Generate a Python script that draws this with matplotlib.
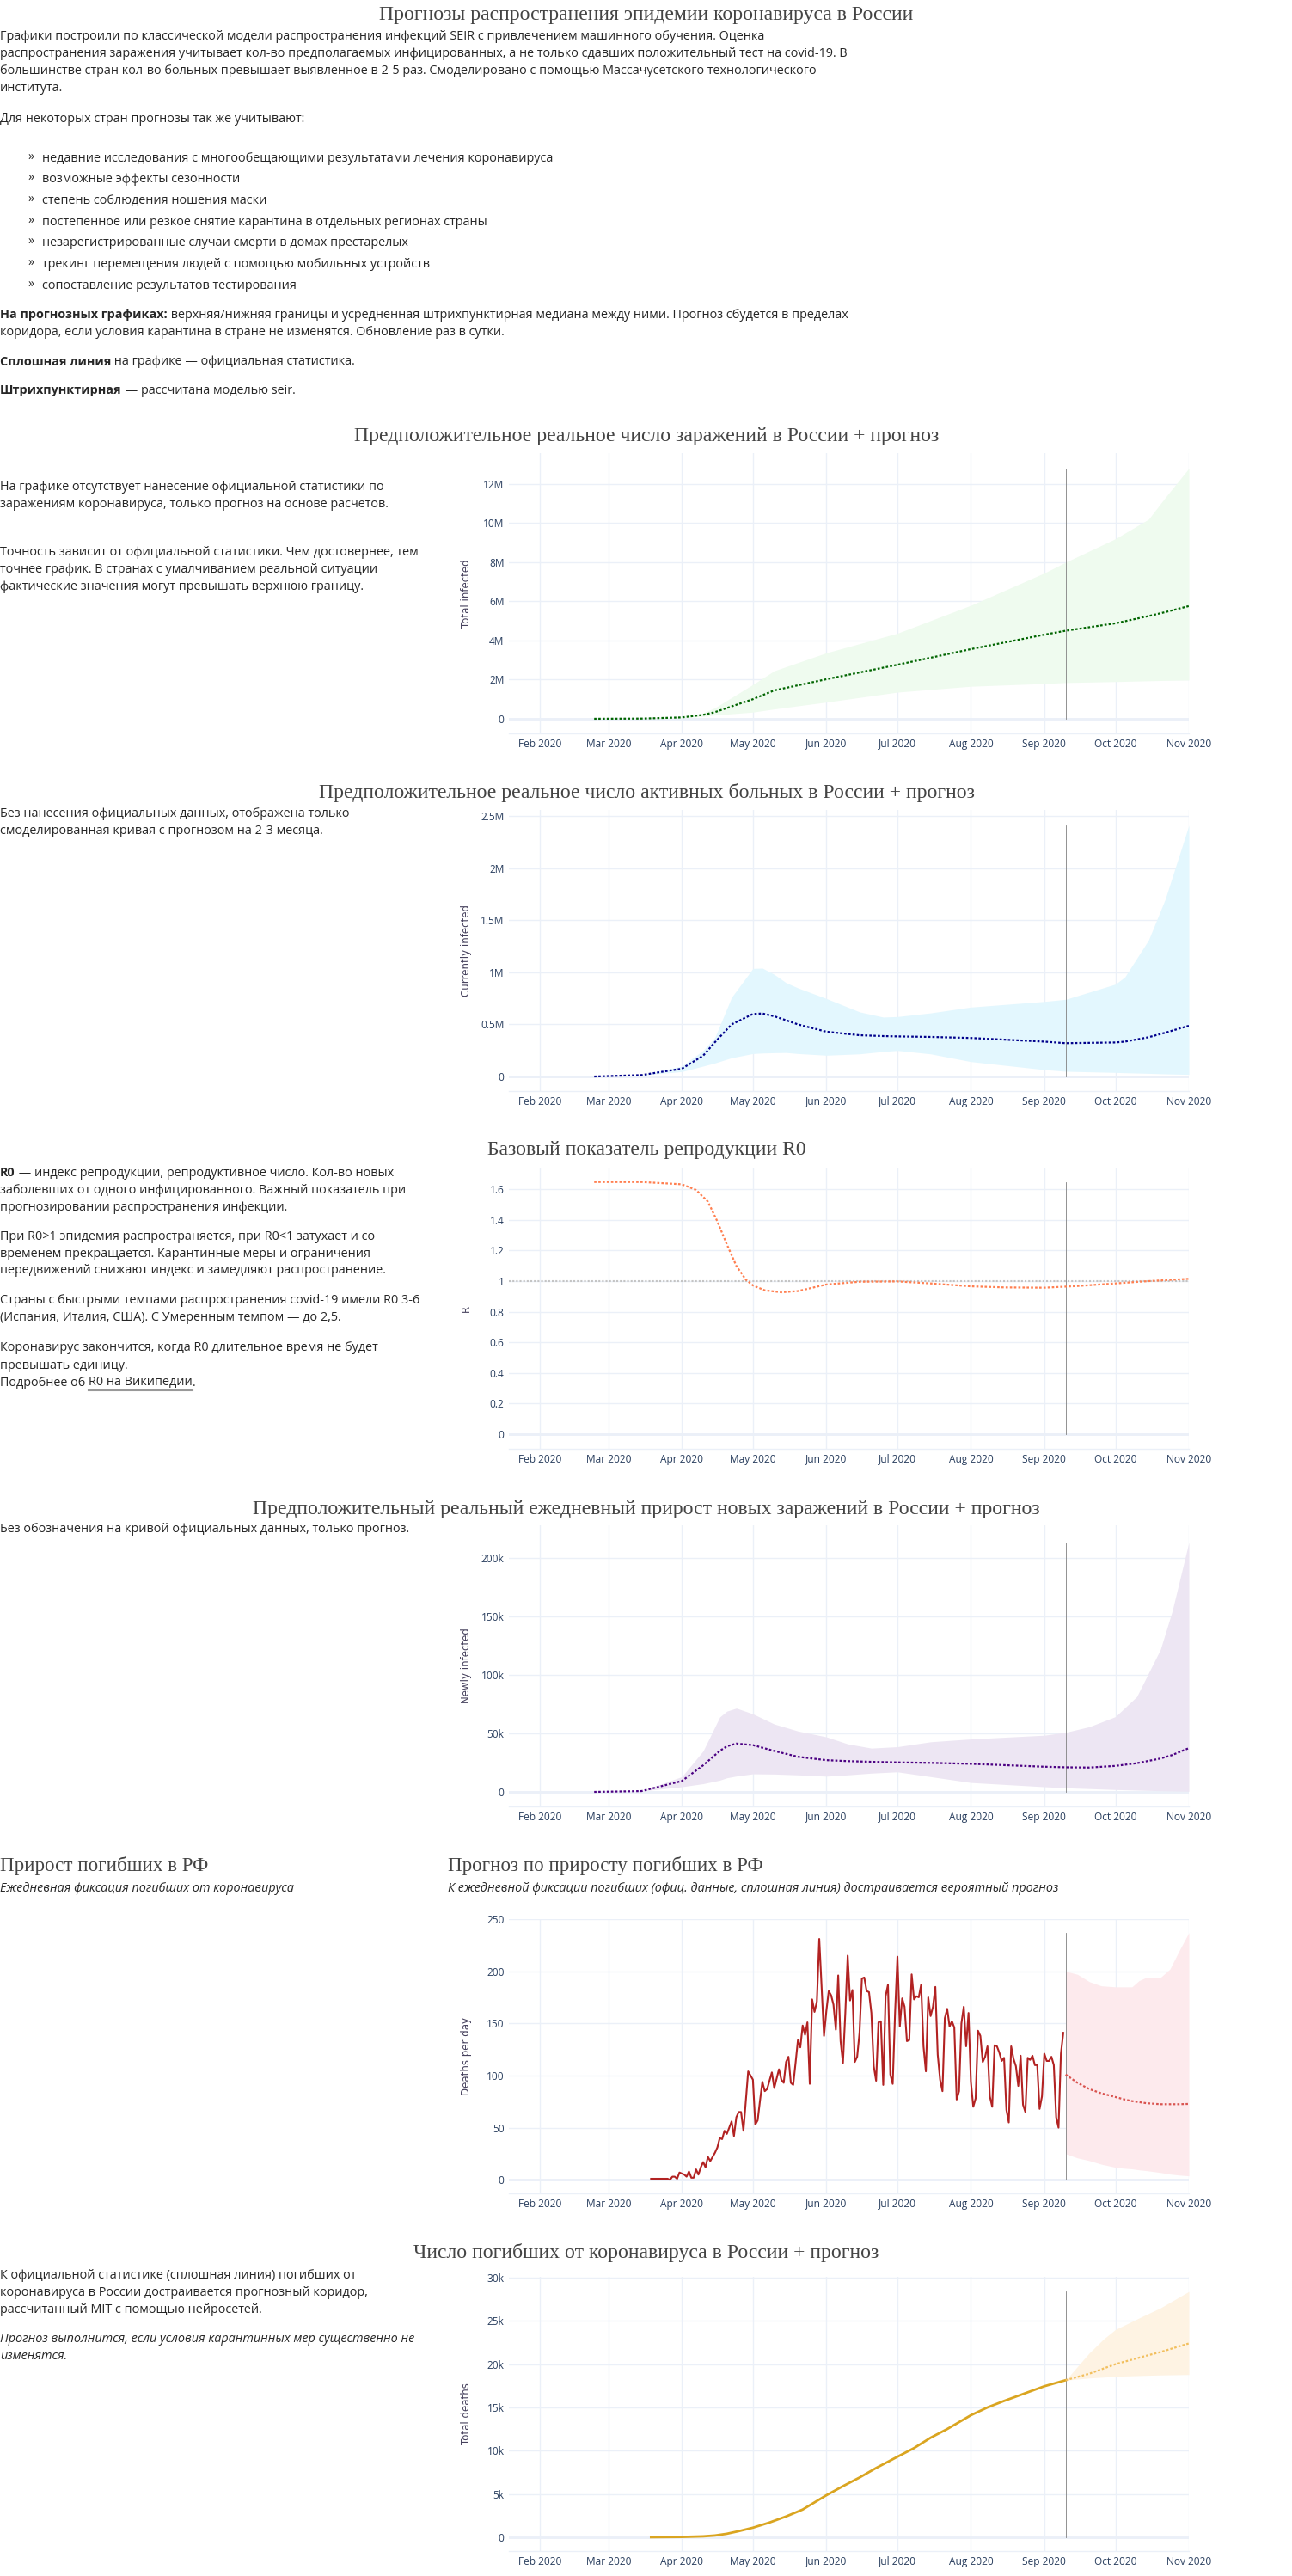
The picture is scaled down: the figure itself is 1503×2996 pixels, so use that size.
import matplotlib
matplotlib.use('Agg')
import matplotlib.pyplot as plt
import matplotlib.dates as mdates
from matplotlib.lines import Line2D
import numpy as np

W, H = 1503, 2996

TEXT = '#262626'
HEAD = '#444444'
TICK = '#2a3f5f'
AXTITLE = '#45405c'
GRID = '#ebf0f8'
SANS = 'Open Sans'
SERIF = 'Liberation Serif'
BODY = 10.35

forecastStart = '2020-09-10'
xRange = ('2020-01-19', '2020-11-01')

# --- total infected, millions
infDates = ['2020-02-24', '2020-03-15', '2020-04-01', '2020-04-10', '2020-04-15', '2020-05-01',
            '2020-05-10', '2020-06-01', '2020-07-01', '2020-08-01', '2020-09-01', '2020-09-10',
            '2020-10-01', '2020-10-15', '2020-10-22', '2020-11-01']
infMid = [0, 0.01, 0.07, 0.2, 0.34, 1.0, 1.45, 2.02, 2.76, 3.56, 4.3, 4.5, 4.88, 5.25, 5.45, 5.76]
infHigh = [0, 0.01, 0.1, 0.3, 0.56, 1.75, 2.45, 3.37, 4.37, 5.8, 7.45, 8.0, 9.2, 10.2, 11.3, 12.8]
infLow = [0, 0.01, 0.05, 0.12, 0.19, 0.34, 0.5, 0.85, 1.36, 1.66, 1.8, 1.85, 1.9, 1.94, 1.96, 1.98]

# --- currently infected, millions
actDates = ['2020-02-24', '2020-03-15', '2020-04-01', '2020-04-10', '2020-04-15', '2020-04-22',
            '2020-05-01', '2020-05-05', '2020-05-10', '2020-05-15', '2020-05-20', '2020-06-01',
            '2020-06-15', '2020-06-25', '2020-07-01', '2020-07-15', '2020-08-01', '2020-09-01',
            '2020-09-10', '2020-10-01', '2020-10-05', '2020-10-15', '2020-10-22', '2020-11-01']
actMid = [0, 0.014, 0.075, 0.2, 0.33, 0.5, 0.6, 0.605, 0.578, 0.54, 0.5, 0.43,
          0.396, 0.388, 0.385, 0.38, 0.37, 0.335, 0.32, 0.327, 0.335, 0.377, 0.42, 0.487]
actHigh = [0, 0.014, 0.1, 0.25, 0.377, 0.76, 1.037, 1.04, 0.98, 0.9, 0.85, 0.748,
           0.62, 0.57, 0.575, 0.61, 0.666, 0.72, 0.74, 0.886, 0.955, 1.31, 1.7, 2.41]
actLow = [0, 0.014, 0.047, 0.1, 0.13, 0.18, 0.22, 0.225, 0.228, 0.23, 0.22, 0.204,
          0.217, 0.24, 0.25, 0.217, 0.143, 0.066, 0.05, 0.039, 0.036, 0.03, 0.025, 0.02]

# --- reproduction number
rDates = ['2020-02-24', '2020-03-15', '2020-04-01', '2020-04-07', '2020-04-12', '2020-04-16',
          '2020-04-20', '2020-04-24', '2020-04-28', '2020-05-01', '2020-05-06', '2020-05-13',
          '2020-05-20', '2020-06-01', '2020-06-15', '2020-07-01', '2020-07-15', '2020-08-01',
          '2020-08-15', '2020-09-01', '2020-09-15', '2020-10-01', '2020-10-15', '2020-11-01']
rValue = [1.648, 1.648, 1.633, 1.596, 1.52, 1.39, 1.24, 1.10, 1.01, 0.972, 0.94, 0.927,
          0.935, 0.978, 0.996, 0.998, 0.985, 0.966, 0.959, 0.957, 0.968, 0.985, 1.0, 1.015]

# --- newly infected, thousands
newDates = ['2020-02-24', '2020-03-15', '2020-04-01', '2020-04-10', '2020-04-17', '2020-04-20',
            '2020-04-24', '2020-05-01', '2020-05-10', '2020-05-20', '2020-06-01', '2020-06-10',
            '2020-06-20', '2020-07-01', '2020-07-15', '2020-08-01', '2020-09-01', '2020-09-10',
            '2020-09-20', '2020-10-01', '2020-10-10', '2020-10-20', '2020-10-25', '2020-11-01']
newMid = [0, 0.7, 9.3, 22.7, 35, 39, 41.3, 40, 35, 30, 27.1, 26.3,
          25.7, 25.2, 24.8, 24, 21.5, 21, 20.8, 22.2, 24.5, 28.5, 31.5, 37.4]
newHigh = [0, 0.7, 13, 35, 64, 69, 71.6, 66.7, 58, 52, 47, 41,
           37.4, 38.6, 42.8, 45.2, 48.4, 50.9, 55.7, 64.3, 81.4, 121.8, 154.8, 213.4]
newLow = [0, 0.7, 4.4, 7, 10, 12, 13.5, 15.4, 15.2, 14.5, 13.4, 14.5,
          16, 17.1, 13, 8, 4.4, 3.5, 2.8, 2, 1.5, 1, 0.8, 0.5]

# --- official deaths per day, one value per day starting 19 Mar
deathsStart = '2020-03-19'
deathsDaily = [1, 1, 1, 1, 1, 1, 1, 1, 0, 3, 3, 1, 7,
               6, 5, 3, 8, 2, 2, 10, 5, 12, 17, 12, 22, 18, 22, 26, 31, 40, 39, 47, 44, 50, 56, 42, 60,
               65, 65, 47, 75, 104, 100,
               96, 53, 57, 76, 94, 85, 87, 95, 103, 88, 97, 106, 96, 93, 113, 118, 93, 91, 112, 134,
               127, 148, 139, 151, 92, 173, 161, 171, 231, 184, 138,
               162, 181, 177, 168, 144, 196, 133, 112, 160, 215, 172, 182, 113, 118, 141, 193, 194, 181,
               180, 160, 109, 95, 151, 152, 91, 176, 187, 101, 92, 160,
               214, 147, 174, 166, 133, 134, 197, 173, 176, 175, 187, 128, 104, 175, 157, 166, 185, 120,
               96, 85, 155, 164, 147, 152, 146, 77, 85, 150, 166, 128, 160,
               94, 70, 78, 143, 138, 113, 118, 128, 80, 70, 129, 128, 122, 114, 117, 67, 55, 128, 116,
               109, 90, 119, 72, 65, 117, 115, 119, 110, 110, 68, 80,
               121, 114, 114, 118, 110, 60, 50, 121, 141]

# --- forecast of deaths per day
dfcDates = ['2020-09-10', '2020-09-15', '2020-09-20', '2020-09-25', '2020-10-01', '2020-10-05',
            '2020-10-08', '2020-10-11', '2020-10-14', '2020-10-20', '2020-10-24', '2020-10-28',
            '2020-11-01']
dfcMid = [101, 93, 87, 83, 79.4, 77, 75.5, 74.5, 73.5, 72.5, 72.5, 72.5, 72.8]
dfcHigh = [200, 197, 190, 186, 185, 185, 185, 191, 194, 194, 202, 220, 237]
dfcLow = [25, 21, 18.4, 15, 12, 11, 10.5, 9.5, 8.8, 7, 5.5, 4.5, 3.8]

# --- total deaths, thousands
totDates = ['2020-03-19', '2020-04-01', '2020-04-10', '2020-04-15', '2020-04-20', '2020-04-25',
            '2020-05-01', '2020-05-08', '2020-05-15', '2020-05-22', '2020-06-01', '2020-06-08',
            '2020-06-15', '2020-06-22', '2020-07-01', '2020-07-08', '2020-07-15', '2020-07-22',
            '2020-08-01', '2020-08-08', '2020-08-15', '2020-08-22', '2020-09-01', '2020-09-10']
totDeaths = [0, 0.03, 0.1, 0.2, 0.4, 0.7, 1.1, 1.7, 2.4, 3.2, 4.85, 5.9,
             6.9, 8.0, 9.3, 10.3, 11.5, 12.5, 14.1, 15.0, 15.75, 16.45, 17.45, 18.15]
tfcDates = ['2020-09-10', '2020-09-20', '2020-09-26', '2020-10-01', '2020-10-13', '2020-10-20', '2020-11-01']
tfcMid = [18.15, 18.9, 19.5, 20.0, 20.9, 21.4, 22.4]
tfcHigh = [18.15, 21.3, 22.9, 24.0, 25.6, 26.5, 28.4]
tfcLow = [18.15, 18.4, 18.5, 18.6, 18.7, 18.75, 18.8]

# tick labels per chart
infTicks, infLabels = [0, 2, 4, 6, 8, 10, 12], ['0', '2M', '4M', '6M', '8M', '10M', '12M']
actTicks, actLabels = [0, 0.5, 1, 1.5, 2, 2.5], ['0', '0.5M', '1M', '1.5M', '2M', '2.5M']
rTicks, rLabels = [0, 0.2, 0.4, 0.6, 0.8, 1, 1.2, 1.4, 1.6], ['0', '0.2', '0.4', '0.6', '0.8', '1', '1.2', '1.4', '1.6']
newTicks, newLabels = [0, 50, 100, 150, 200], ['0', '50k', '100k', '150k', '200k']
dayTicks, dayLabels = [0, 50, 100, 150, 200, 250], ['0', '50', '100', '150', '200', '250']
totTicks, totLabels = [0, 5, 10, 15, 20, 25, 30], ['0', '5k', '10k', '15k', '20k', '25k', '30k']


def d(lst):
    return np.array(lst, dtype='datetime64[D]')


fig = plt.figure(figsize=(W / 100, H / 100), dpi=100)
renderer = fig.canvas.get_renderer()


def fx(x):
    return x / W


def fy(y):
    return 1 - y / H


def textLine(x, y, parts, size=BODY, color=TEXT):
    # parts: list of (text, weight, style, underline)
    for s, weight, style, underline in parts:
        t = fig.text(fx(x), fy(y), s, fontsize=size, fontweight=weight, fontstyle=style,
                     family=SANS, color=color, va='center', ha='left')
        bb = t.get_window_extent(renderer)
        if underline:
            fig.add_artist(Line2D([fx(x), fx(x + bb.width)], [fy(y + 9), fy(y + 9)],
                                  color='#999999', lw=1.5))
        x += bb.width


def plain(x, y, s, size=BODY, style='normal'):
    fig.text(fx(x), fy(y), s, fontsize=size, fontstyle=style, family=SANS,
             color=TEXT, va='center', ha='left')


def heading(y, s, x=752, ha='center', size=17.1):
    fig.text(fx(x), fy(y), s, fontsize=size, family=SERIF, color=HEAD, va='center', ha=ha)


def makeAxis(top, bottom, ylim, ticks, labels, ytitle):
    ax = fig.add_axes([fx(592), fy(bottom), (1383 - 592) / W, (bottom - top) / H])
    ax.set_xlim(d(xRange))
    ax.set_ylim(ylim)
    for s in ['top', 'right', 'left']:
        ax.spines[s].set_visible(False)
    ax.spines['bottom'].set_color(GRID)
    ax.spines['bottom'].set_linewidth(1)
    ax.xaxis.set_major_locator(mdates.MonthLocator())
    ax.xaxis.set_major_formatter(mdates.DateFormatter('%b %Y'))
    ax.set_yticks(ticks)
    ax.set_yticklabels(labels)
    ax.tick_params(length=0, labelsize=8.6, labelcolor=TICK, pad=4)
    for lab in ax.get_xticklabels() + ax.get_yticklabels():
        lab.set_family(SANS)
    ax.grid(True, color=GRID, lw=1)
    ax.set_axisbelow(True)
    ax.axhline(0, color=GRID, lw=2, zorder=0.5)
    ax.set_ylabel(ytitle, fontsize=8.5, color=AXTITLE, family='DejaVu Sans')
    ax.yaxis.set_label_coords(-0.054, 0.5)
    return ax


DOT = (0, (1.2, 1.0))


def band(ax, dates, mid, low, high, line, fill):
    ax.fill_between(d(dates), low, high, color=fill, lw=0, zorder=1)
    ax.plot(d(dates), mid, color=line, lw=1.6, linestyle=DOT, zorder=3)


def todayLine(ax, top):
    ax.plot(d([forecastStart, forecastStart]), [0, top], color='#808080', lw=0.6, zorder=2)


# ---------------- header text ----------------
heading(17, 'Прогнозы распространения эпидемии коронавируса в России')
plain(0, 43, 'Графики построили по классической модели распространения инфекций SEIR с привлечением машинного обучения. Оценка')
plain(0, 63, 'распространения заражения учитывает кол-во предполагаемых инфицированных, а не только сдавших положительный тест на covid-19. В')
plain(0, 83, 'большинстве стран кол-во больных превышает выявленное в 2-5 раз. Смоделировано с помощью Массачусетского технологического')
plain(0, 103, 'института.')
plain(0, 138, 'Для некоторых стран прогнозы так же учитывают:')
bullets = ['недавние исследования с многообещающими результатами лечения коронавируса',
           'возможные эффекты сезонности',
           'степень соблюдения ношения маски',
           'постепенное или резкое снятие карантина в отдельных регионах страны',
           'незарегистрированные случаи смерти в домах престарелых',
           'трекинг перемещения людей с помощью мобильных устройств',
           'сопоставление результатов тестирования']
for i, b in enumerate(bullets):
    y = 184 + i * 24.7
    plain(32, y - 1, '»')
    plain(49, y, b)
textLine(0, 366, [('На прогнозных графиках:', 'bold', 'normal', False),
                  (' верхняя/нижняя границы и усредненная штрихпунктирная медиана между ними. Прогноз сбудется в пределах', 'normal', 'normal', False)])
plain(0, 386, 'коридора, если условия карантина в стране не изменятся. Обновление раз в сутки.')
textLine(0, 421, [('Сплошная линия', 'bold', 'normal', False),
                  (' на графике — официальная статистика.', 'normal', 'normal', False)])
textLine(0, 454, [('Штрихпунктирная', 'bold', 'normal', False),
                  (' — рассчитана моделью seir.', 'normal', 'normal', False)])

# ---------------- total infected ----------------
heading(507, 'Предположительное реальное число заражений в России + прогноз')
plain(0, 567, 'На графике отсутствует нанесение официальной статистики по')
plain(0, 587, 'заражениям коронавируса, только прогноз на основе расчетов.')
plain(0, 642, 'Точность зависит от официальной статистики. Чем достовернее, тем')
plain(0, 662, 'точнее график. В странах с умалчиванием реальной ситуации')
plain(0, 682, 'фактические значения могут превышать верхнюю границу.')
ax1 = makeAxis(527, 853, (-0.75, 13.58), infTicks, infLabels, 'Total infected')
band(ax1, infDates, infMid, infLow, infHigh, '#006400', '#effbef')
todayLine(ax1, max(infHigh))

# ---------------- currently infected ----------------
heading(922, 'Предположительное реальное число активных больных в России + прогноз')
plain(0, 947, 'Без нанесения официальных данных, отображена только')
plain(0, 967, 'смоделированная кривая с прогнозом на 2-3 месяца.')
ax2 = makeAxis(942, 1269, (-0.14, 2.558), actTicks, actLabels, 'Currently infected')
band(ax2, actDates, actMid, actLow, actHigh, '#00008b', '#e3f7fe')
todayLine(ax2, max(actHigh))

# ---------------- R0 ----------------
heading(1338, 'Базовый показатель репродукции R0')
textLine(0, 1364, [('R0', 'bold', 'normal', False),
                   (' — индекс репродукции, репродуктивное число. Кол-во новых', 'normal', 'normal', False)])
plain(0, 1384, 'заболевших от одного инфицированного. Важный показатель при')
plain(0, 1404, 'прогнозировании распространения инфекции.')
plain(0, 1438, 'При R0>1 эпидемия распространяется, при R0<1 затухает и со')
plain(0, 1458, 'временем прекращается. Карантинные меры и ограничения')
plain(0, 1478, 'передвижений снижают индекс и замедляют распространение.')
plain(0, 1513, 'Страны с быстрыми темпами распространения covid-19 имели R0 3-6')
plain(0, 1533, '(Испания, Италия, США). С Умеренным темпом — до 2,5.')
plain(0, 1568, 'Коронавирус закончится, когда R0 длительное время не будет')
plain(0, 1588, 'превышать единицу.')
textLine(0, 1608, [('Подробнее об ', 'normal', 'normal', False),
                   ('R0 на Википедии', 'normal', 'normal', True),
                   ('.', 'normal', 'normal', False)])
ax3 = makeAxis(1358, 1685, (-0.096, 1.742), rTicks, rLabels, 'R')
ax3.axhline(1, color='#c4c4c4', lw=1.5, linestyle=(0, (1, 1)), zorder=2)
ax3.plot(d(rDates), rValue, color='#ff7f50', lw=1.6, linestyle=DOT, zorder=3)
todayLine(ax3, max(rValue))

# ---------------- newly infected ----------------
heading(1755, 'Предположительный реальный ежедневный прирост новых заражений в России + прогноз')
plain(0, 1778, 'Без обозначения на кривой официальных данных, только прогноз.')
ax4 = makeAxis(1774, 2101, (-12.5, 228), newTicks, newLabels, 'Newly infected')
band(ax4, newDates, newMid, newLow, newHigh, '#4b0082', '#ede6f3')
todayLine(ax4, max(newHigh))

# ---------------- deaths per day ----------------
heading(2170, 'Прирост погибших в РФ', x=0, ha='left', size=16.6)
plain(0, 2196, 'Ежедневная фиксация погибших от коронавируса', style='italic')
heading(2170, 'Прогноз по приросту погибших в РФ', x=521, ha='left', size=16.6)
plain(521, 2196, 'К ежедневной фиксации погибших (офиц. данные, сплошная линия) достраивается вероятный прогноз',
      style='italic')
ax5 = makeAxis(2232, 2551, (-13, 250), dayTicks, dayLabels, 'Deaths per day')
dayDates = np.arange(np.datetime64(deathsStart), np.datetime64(deathsStart) + len(deathsDaily))
ax5.fill_between(d(dfcDates), dfcLow, dfcHigh, color='#fdeaed', lw=0, zorder=1)
ax5.plot(dayDates, deathsDaily, color='#b22222', lw=1.5, zorder=3)
ax5.plot(d(dfcDates), dfcMid, color='#d9534f', lw=1.6, linestyle=DOT, zorder=3)
todayLine(ax5, max(dfcHigh))

# ---------------- total deaths ----------------
heading(2620, 'Число погибших от коронавируса в России + прогноз')
plain(0, 2647, 'К официальной статистике (сплошная линия) погибших от')
plain(0, 2667, 'коронавируса в России достраивается прогнозный коридор,')
plain(0, 2687, 'рассчитанный MIT с помощью нейросетей.')
plain(0, 2721, 'Прогноз выполнится, если условия карантинных мер существенно не', style='italic')
plain(0, 2741, 'изменятся.', style='italic')
ax6 = makeAxis(2648, 2967, (-1.6, 30.1), totTicks, totLabels, 'Total deaths')
ax6.fill_between(d(tfcDates), tfcLow, tfcHigh, color='#fef3e3', lw=0, zorder=1)
ax6.plot(d(totDates), totDeaths, color='#daa520', lw=2, zorder=3)
ax6.plot(d(tfcDates), tfcMid, color='#f2bf5e', lw=1.6, linestyle=DOT, zorder=3)
todayLine(ax6, max(tfcHigh))

fig.savefig('out.png', dpi=100)
